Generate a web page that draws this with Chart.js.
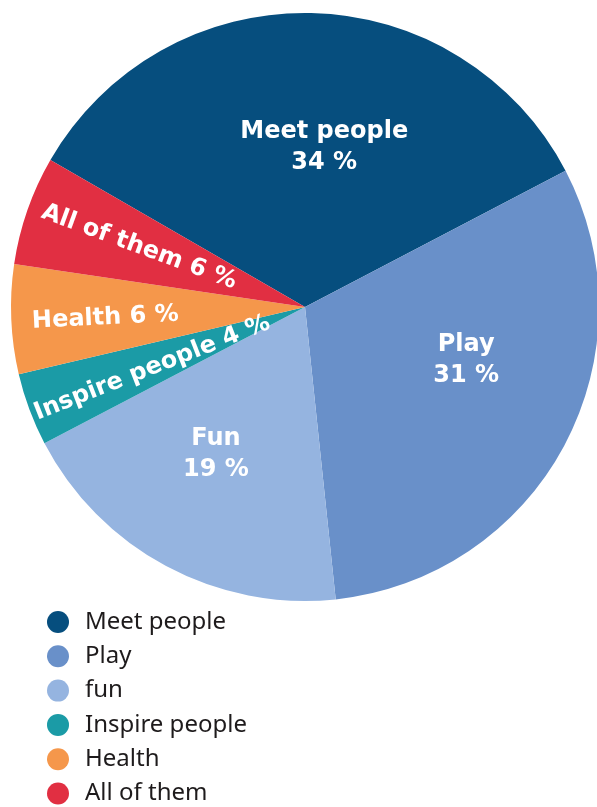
<!DOCTYPE html>
<html>
<head>
<meta charset="utf-8">
<script src="https://cdn.jsdelivr.net/npm/chart.js@4.4.1/dist/chart.umd.min.js"></script>
<style>
    html, body { margin: 0; padding: 0; background: #fff; overflow: hidden; }
    canvas { display: block; }
</style>
</head>
<body>
<canvas id="pieChart" width="600" height="807"></canvas>
<script>
// ---------- Data ----------
const categories = ['Meet people', 'Play', 'fun', 'Inspire people', 'Health', 'All of them'];
const sliceNames = ['Meet people', 'Play', 'Fun', 'Inspire people', 'Health', 'All of them'];
const shares = [34, 31, 19, 4, 6, 6];
const colors = ['#064e7e', '#6990c9', '#95b4e0', '#1b9ba6', '#f5974b', '#e12f42'];

// where each slice label sits inside its slice (fraction of angle, fraction of radius)
const labelAngleFrac = [0.546, 0.41, 0.544, 0.43, 0.48, 0.546];
const labelRadiusFrac = [0.55, 0.577, 0.585, 0.56, 0.68, 0.60];

// ---------- Slice labels ----------
const sliceLabels = {
    id: 'sliceLabels',
    afterDatasetsDraw(chart) {
        const ctx = chart.ctx;
        const meta = chart.getDatasetMeta(0);
        ctx.save();
        ctx.fillStyle = '#ffffff';
        ctx.font = "bold 24px 'DejaVu Sans'";
        ctx.textAlign = 'center';
        ctx.textBaseline = 'middle';
        meta.data.forEach((arc, i) => {
            const p = arc.getProps(['x', 'y', 'startAngle', 'endAngle', 'outerRadius'], true);
            const a = p.startAngle + (p.endAngle - p.startAngle) * labelAngleFrac[i];
            const r = p.outerRadius * labelRadiusFrac[i];
            const px = p.x + Math.cos(a) * r;
            const py = p.y + Math.sin(a) * r;
            const pct = shares[i] + ' %';
            if (shares[i] >= 10) {
                ctx.fillText(sliceNames[i], px, py - 15);
                ctx.fillText(pct, px, py + 16);
            } else {
                ctx.save();
                ctx.translate(px, py);
                ctx.rotate(a - Math.PI);
                ctx.fillText(sliceNames[i] + ' ' + pct, 0, 1);
                ctx.restore();
            }
        });
        ctx.restore();
    }
};

// ---------- Legend (vertical, under the pie) ----------
const listLegend = {
    id: 'listLegend',
    afterDraw(chart) {
        const ctx = chart.ctx;
        const colorsUsed = chart.data.datasets[0].backgroundColor;
        ctx.save();
        ctx.font = "24px 'Noto Sans'";
        ctx.textBaseline = 'middle';
        ctx.textAlign = 'left';
        chart.data.labels.forEach((label, i) => {
            const y = 622 + i * 34.3;
            ctx.fillStyle = colorsUsed[i];
            ctx.beginPath();
            ctx.arc(58, y, 11, 0, Math.PI * 2);
            ctx.fill();
            ctx.fillStyle = '#1e1b1c';
            ctx.fillText(label, 85, y);
        });
        ctx.restore();
    }
};

new Chart(document.getElementById('pieChart'), {
    type: 'pie',
    data: {
        labels: categories,
        datasets: [{
            data: shares,
            backgroundColor: colors,
            borderWidth: 0
        }]
    },
    options: {
        responsive: false,
        animation: false,
        devicePixelRatio: 1,
        rotation: -60,
        layout: { padding: { left: 11, top: 13, right: 1, bottom: 206 } },
        plugins: {
            legend: { display: false },
            tooltip: { enabled: false }
        }
    },
    plugins: [sliceLabels, listLegend]
});
</script>
</body>
</html>
